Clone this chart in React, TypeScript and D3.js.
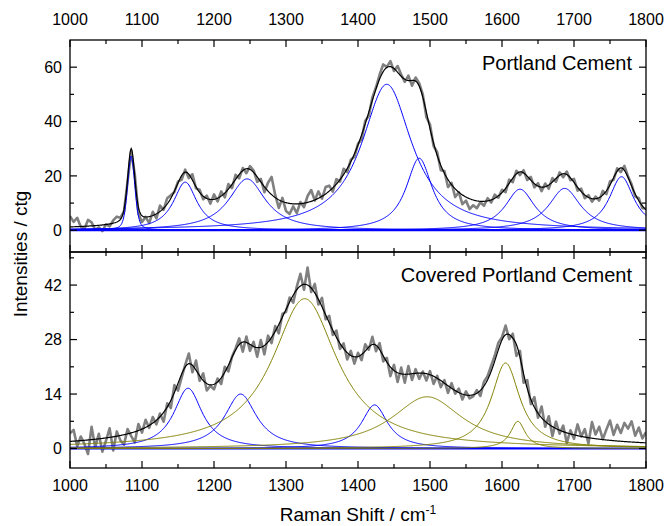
import React from 'react';
import * as d3 from 'd3';

// ---------- data ----------
const xTicks = [1000, 1100, 1200, 1300, 1400, 1500, 1600, 1700, 1800];
const topYTicks = [0, 20, 40, 60];
const botYTicks = [0, 14, 28, 42];

const specStart = 1000;
const specStep = 5;

// measured spectrum (Portland Cement), 1000..1800 step 5
const topSpectrum = [
  5.2, 3.1, 4.6, 1.2, 0.5, 3.8, 2.9, 0.2, 1.1, -0.3, 2.2, 1.4, 3.6, 5.0, 4.6, 6.9, 18.0, 29.0, 20.5, 6.1,
  3.0, 4.9, 2.6, 6.8, 4.4, 9.1, 7.5, 11.8, 12.9, 14.1, 17.9, 18.6, 22.3, 19.2, 20.6, 15.4, 14.9, 11.4, 12.7, 9.8,
  13.2, 10.6, 14.3, 12.1, 17.0, 15.5, 20.4, 19.1, 22.9, 21.0, 23.6, 22.0, 17.8, 18.9, 14.0, 17.5, 19.6, 13.0, 8.2, 11.9,
  7.1, 6.0, 8.8, 6.3, 10.4, 8.5, 12.6, 14.8, 10.9, 14.3, 11.6, 15.9, 16.4, 14.2, 18.8, 17.9, 22.6, 21.4, 25.9, 27.0,
  31.8, 33.4, 40.2, 42.1, 48.9, 52.6, 57.2, 61.0, 60.1, 62.2, 58.6, 60.4, 57.3, 54.6, 56.9, 53.2, 56.2, 54.1, 50.0, 41.6,
  38.9, 31.0, 28.7, 22.1, 21.8, 15.9, 17.4, 12.2, 14.0, 9.6, 10.9, 7.8, 9.2, 8.1, 10.3, 9.0, 11.8, 10.2, 13.1, 12.0,
  14.9, 14.0, 18.6, 17.7, 21.9, 20.3, 22.1, 18.5, 19.6, 15.8, 17.3, 14.4, 17.2, 15.3, 19.2, 17.8, 21.3, 19.5, 21.6, 18.4,
  18.9, 14.6, 15.3, 11.8, 12.9, 10.5, 12.4, 10.9, 14.5, 13.3, 18.0, 18.6, 22.8, 21.4, 23.7, 19.9, 16.9, 12.5, 11.8, 8.1,
  8.0,
];

// measured spectrum (Covered Portland Cement), 1000..1800 step 5
const botSpectrum = [
  3.9, 4.8, 0.6, 3.1, 1.2, -1.4, 5.6, 0.3, 3.8, -0.8, 2.0, 5.2, -0.5, 4.4, 2.1, 1.0, 5.0, 3.2, 1.6, 6.3,
  4.1, 7.4, 5.3, 8.1, 6.2, 9.0, 6.9, 11.6, 10.4, 16.3, 14.9, 18.2, 21.5, 24.4, 19.6, 22.6, 17.4, 19.3, 14.9, 16.1,
  15.2, 18.0, 16.6, 21.0, 19.8, 23.6, 25.7, 28.3, 24.9, 28.8, 25.1, 27.4, 23.6, 27.9, 24.2, 29.0, 27.1, 31.5, 29.6, 34.6,
  35.1, 38.8, 37.5, 41.6, 44.9, 40.8, 46.5, 40.2, 42.3, 37.0, 38.7, 33.2, 34.1, 29.2, 30.3, 25.6, 27.0, 22.9, 25.1, 21.8,
  24.6, 22.7, 26.8, 25.4, 28.7, 25.0, 27.1, 22.4, 23.3, 18.6, 21.5, 17.1, 20.8, 16.9, 21.2, 17.6, 20.4, 17.9, 19.8, 17.5,
  19.9, 16.6, 18.7, 15.8, 17.6, 14.3, 16.8, 14.1, 15.4, 12.6, 14.7, 12.9, 13.4, 15.0, 13.5, 17.2, 18.6, 21.3, 23.9, 27.2,
  28.6, 31.6, 28.1, 29.5, 23.8, 25.1, 16.9, 17.6, 11.4, 13.2, 7.9, 10.8, 5.6, 8.3, 3.2, 6.9, 3.8, 5.9, 1.4, 4.7,
  2.5, 6.2, 3.1, 5.0, 1.3, 6.8, 3.6, 5.6, 2.4, 4.9, 7.2, 3.5, 6.1, 4.0, 6.6, 5.1, 7.0, 3.3, 5.4, 2.6,
  4.2,
];

// fitted peak components
const topCenters = [1085, 1160, 1246, 1440, 1485, 1625, 1687, 1766];
const topHeights = [27.3, 17.7, 18.9, 53.7, 26.5, 15.1, 15.4, 19.7];
const topWidths = [12, 40, 62, 85, 44, 50, 54, 42];
const topLorentzFraction = [0.4, 1, 1, 1, 1, 1, 1, 1];

const botCenters = [1164, 1237, 1423, 1326, 1496, 1605, 1622];
const botHeights = [15.5, 14, 11.2, 38.5, 13.3, 22, 7];
const botWidths = [48, 54, 44, 110, 120, 48, 25];
const botLorentzFraction = [1, 1, 1, 1, 1, 1, 1];
const botGroups = ['a', 'a', 'a', 'b', 'b', 'b', 'b'];

// ---------- layout ----------
const W = 667;
const H = 526;
const L = 70;
const R = 646;
const T1 = 40;
const B1 = 252;
const T2 = 252;
const B2 = 468;
const FONT = '"Liberation Sans", Arial, Helvetica, sans-serif';
const BLUE = '#0000ff';
const OLIVE = '#808000';

function peakValue(x: number, c: number, h: number, w: number, eta: number) {
  const d = x - c;
  const hw = w / 2;
  const lor = 1 / (1 + (d / hw) * (d / hw));
  const gau = Math.exp((-4 * Math.LN2 * d * d) / (w * w));
  return h * (eta * lor + (1 - eta) * gau);
}

const fine = d3.range(1000, 1800.01, 1);

function Panel({
  top, bottom, domain, yTicks, yMinor, spectrum, centers, heights, widths, etas, colors, label, labelY, id,
}: any) {
  const x = d3.scaleLinear().domain([1000, 1800]).range([L, R]);
  const y = d3.scaleLinear().domain(domain).range([bottom, top]);
  const line = d3.line<[number, number]>().x((d) => x(d[0])).y((d) => y(d[1]));

  const comps = centers.map((c: number, i: number) =>
    fine.map((xx) => [xx, peakValue(xx, c, heights[i], widths[i], etas[i])] as [number, number])
  );
  const fit = fine.map((xx) => [
    xx,
    centers.reduce((s: number, c: number, i: number) => s + peakValue(xx, c, heights[i], widths[i], etas[i]), 0),
  ] as [number, number]);
  const spec = spectrum.map((v: number, i: number) => [specStart + i * specStep, v] as [number, number]);

  const xMinor = d3.range(1050, 1800, 100);
  return (
    <g>
      <defs>
        <clipPath id={id}>
          <rect x={L} y={top} width={R - L} height={bottom - top} />
        </clipPath>
      </defs>
      <g clipPath={`url(#${id})`}>
        <path d={line(spec) || ''} fill="none" stroke="#808080" strokeWidth={2.6} strokeLinejoin="round" />
        <line x1={L} x2={R} y1={y(0)} y2={y(0)} stroke={colors[0]} strokeWidth={1.8} />
        {comps.map((cp: any, i: number) => (
          <path key={i} d={line(cp) || ''} fill="none" stroke={colors[i]} strokeWidth={1} />
        ))}
        <path d={line(fit) || ''} fill="none" stroke="#000" strokeWidth={1.2} />
      </g>
      {/* frame */}
      <rect x={L} y={top} width={R - L} height={bottom - top} fill="none" stroke="#000" strokeWidth={1.3} />
      {/* x ticks */}
      {xTicks.map((t) => (
        <g key={'xt' + t}>
          <line x1={x(t)} x2={x(t)} y1={top} y2={top + 7} stroke="#000" strokeWidth={1.2} />
          <line x1={x(t)} x2={x(t)} y1={bottom} y2={bottom - 7} stroke="#000" strokeWidth={1.2} />
        </g>
      ))}
      {xMinor.map((t) => (
        <g key={'xm' + t}>
          <line x1={x(t)} x2={x(t)} y1={top} y2={top + 4} stroke="#000" strokeWidth={1.2} />
          <line x1={x(t)} x2={x(t)} y1={bottom} y2={bottom - 4} stroke="#000" strokeWidth={1.2} />
        </g>
      ))}
      {/* y ticks */}
      {yTicks.map((t: number) => (
        <g key={'yt' + t}>
          <line x1={L} x2={L + 7} y1={y(t)} y2={y(t)} stroke="#000" strokeWidth={1.2} />
          <line x1={R} x2={R - 7} y1={y(t)} y2={y(t)} stroke="#000" strokeWidth={1.2} />
          <text x={L - 8} y={y(t)} dy="0.36em" textAnchor="end" fontSize={16} fontFamily={FONT}>
            {t}
          </text>
        </g>
      ))}
      {yMinor.map((t: number) => (
        <g key={'ym' + t}>
          <line x1={L} x2={L + 4} y1={y(t)} y2={y(t)} stroke="#000" strokeWidth={1.2} />
          <line x1={R} x2={R - 4} y1={y(t)} y2={y(t)} stroke="#000" strokeWidth={1.2} />
        </g>
      ))}
      <text x={632} y={labelY} textAnchor="end" fontSize={20} fontFamily={FONT}>
        {label}
      </text>
    </g>
  );
}

export default function App() {
  const x = d3.scaleLinear().domain([1000, 1800]).range([L, R]);
  const botColors = botGroups.map((g) => (g === 'a' ? BLUE : OLIVE));
  return (
    <svg width={W} height={H} style={{ display: 'block', position: 'absolute', left: 0, top: 0, background: '#fff' }}>
      <rect width={W} height={H} fill="#fff" />
      <Panel
        id="clipTop"
        top={T1}
        bottom={B1}
        domain={[-8, 70]}
        yTicks={topYTicks}
        yMinor={[10, 30, 50]}
        spectrum={topSpectrum}
        centers={topCenters}
        heights={topHeights}
        widths={topWidths}
        etas={topLorentzFraction}
        colors={topCenters.map(() => BLUE)}
        label="Portland Cement"
        labelY={70}
      />
      <Panel
        id="clipBot"
        top={T2}
        bottom={B2}
        domain={[-5, 50.5]}
        yTicks={botYTicks}
        yMinor={[7, 21, 35, 49]}
        spectrum={botSpectrum}
        centers={botCenters}
        heights={botHeights}
        widths={botWidths}
        etas={botLorentzFraction}
        colors={botColors}
        label="Covered Portland Cement"
        labelY={282}
      />
      {xTicks.map((t) => (
        <text key={'tl' + t} x={x(t)} y={25} textAnchor="middle" fontSize={16} fontFamily={FONT}>
          {t}
        </text>
      ))}
      {xTicks.map((t) => (
        <text key={'bl' + t} x={x(t)} y={491} textAnchor="middle" fontSize={16} fontFamily={FONT}>
          {t}
        </text>
      ))}
      <text x={(L + R) / 2} y={521} textAnchor="middle" fontSize={19} fontFamily={FONT}>
        Raman Shift / cm<tspan dy={-7} fontSize={12}>-1</tspan>
      </text>
      <text
        transform={`translate(27, ${(T1 + B2) / 2}) rotate(-90)`}
        textAnchor="middle"
        fontSize={19}
        fontFamily={FONT}
      >
        Intensities / ctg
      </text>
    </svg>
  );
}
